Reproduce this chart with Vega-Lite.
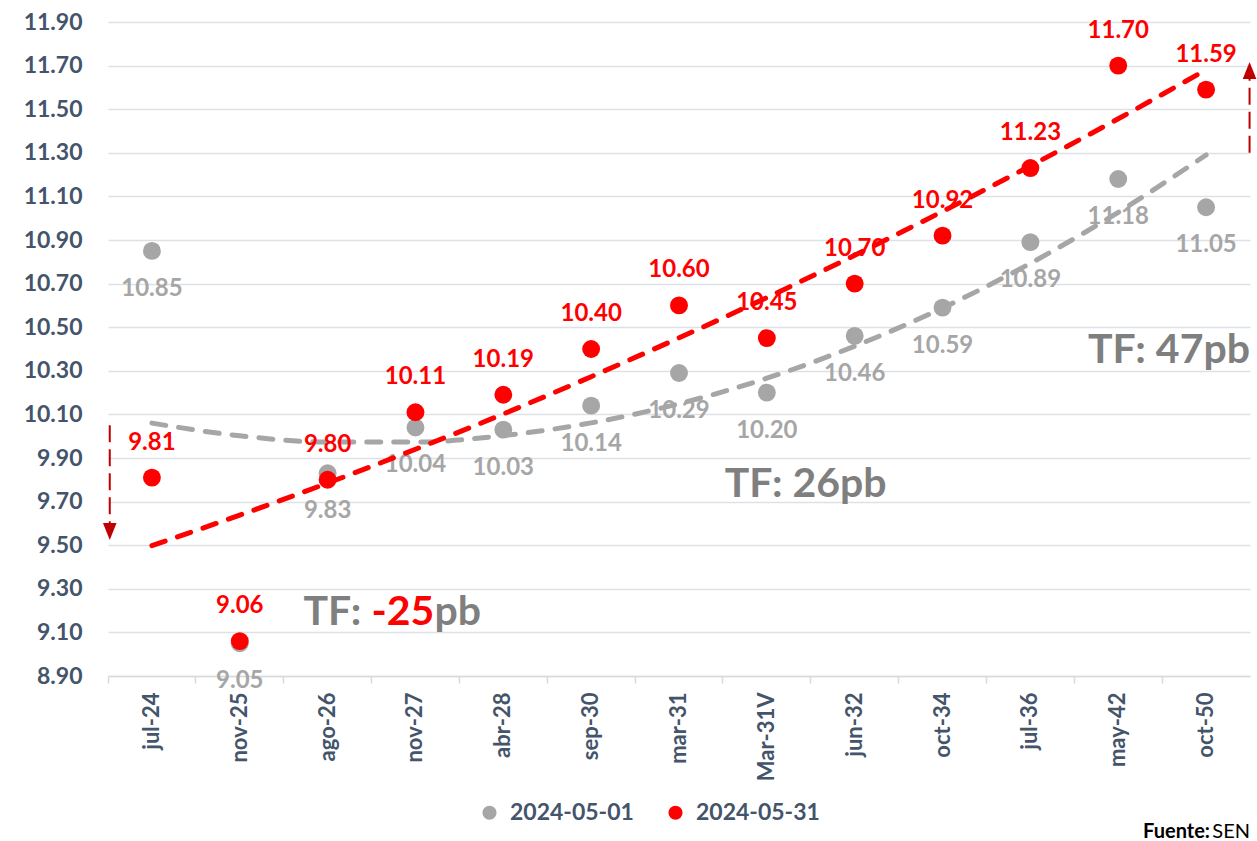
{
  "$schema": "https://vega.github.io/schema/vega-lite/v6.json",
  "width": 1142,
  "height": 654,
  "autosize": {"type": "none"},
  "padding": {"left": 108, "top": 22, "right": 7, "bottom": 165},
  "background": "white",
  "config": {"font": "Lato", "view": {"stroke": null}},
  "datasets": {
    "bonos": [
      {"bono": "jul-24", "serie": "2024-05-01", "tasa": 10.85, "tendencia": 10.060},
      {"bono": "nov-25", "serie": "2024-05-01", "tasa": 9.05, "tendencia": 10.002},
      {"bono": "ago-26", "serie": "2024-05-01", "tasa": 9.83, "tendencia": 9.973},
      {"bono": "nov-27", "serie": "2024-05-01", "tasa": 10.04, "tendencia": 9.973},
      {"bono": "abr-28", "serie": "2024-05-01", "tasa": 10.03, "tendencia": 10.003},
      {"bono": "sep-30", "serie": "2024-05-01", "tasa": 10.14, "tendencia": 10.061},
      {"bono": "mar-31", "serie": "2024-05-01", "tasa": 10.29, "tendencia": 10.149},
      {"bono": "Mar-31V", "serie": "2024-05-01", "tasa": 10.20, "tendencia": 10.266},
      {"bono": "jun-32", "serie": "2024-05-01", "tasa": 10.46, "tendencia": 10.413},
      {"bono": "oct-34", "serie": "2024-05-01", "tasa": 10.59, "tendencia": 10.588},
      {"bono": "jul-36", "serie": "2024-05-01", "tasa": 10.89, "tendencia": 10.793},
      {"bono": "may-42", "serie": "2024-05-01", "tasa": 11.18, "tendencia": 11.027},
      {"bono": "oct-50", "serie": "2024-05-01", "tasa": 11.05, "tendencia": 11.290},
      {"bono": "jul-24", "serie": "2024-05-31", "tasa": 9.81, "tendencia": 9.498},
      {"bono": "nov-25", "serie": "2024-05-31", "tasa": 9.06, "tendencia": 9.638},
      {"bono": "ago-26", "serie": "2024-05-31", "tasa": 9.80, "tendencia": 9.785},
      {"bono": "nov-27", "serie": "2024-05-31", "tasa": 10.11, "tendencia": 9.940},
      {"bono": "abr-28", "serie": "2024-05-31", "tasa": 10.19, "tendencia": 10.102},
      {"bono": "sep-30", "serie": "2024-05-31", "tasa": 10.40, "tendencia": 10.273},
      {"bono": "mar-31", "serie": "2024-05-31", "tasa": 10.60, "tendencia": 10.451},
      {"bono": "Mar-31V", "serie": "2024-05-31", "tasa": 10.45, "tendencia": 10.636},
      {"bono": "jun-32", "serie": "2024-05-31", "tasa": 10.70, "tendencia": 10.830},
      {"bono": "oct-34", "serie": "2024-05-31", "tasa": 10.92, "tendencia": 11.031},
      {"bono": "jul-36", "serie": "2024-05-31", "tasa": 11.23, "tendencia": 11.240},
      {"bono": "may-42", "serie": "2024-05-31", "tasa": 11.70, "tendencia": 11.456},
      {"bono": "oct-50", "serie": "2024-05-31", "tasa": 11.59, "tendencia": 11.681}
    ],
    "anotaciones": [
      {"id": "tf1", "bono": "nov-27", "tasa": 9.134, "texto": "TF:"},
      {"id": "neg", "bono": "nov-27", "tasa": 9.134, "texto": "-25"},
      {"id": "pb1", "bono": "nov-27", "tasa": 9.134, "texto": "pb"},
      {"id": "tf2", "bono": "jun-32", "tasa": 9.721, "texto": "TF: 26pb"},
      {"id": "tf3", "bono": "oct-50", "tasa": 10.336, "texto": "TF: 47pb"}
    ],
    "flechas": [
      {"lado": "izq", "bono": "jul-24", "tasa": 10.05, "hasta": 9.60, "punta": 9.563},
      {"lado": "der", "bono": "oct-50", "tasa": 11.30, "hasta": 11.64, "punta": 11.678}
    ],
    "fuente": [
      {"parte": "Fuente:", "bono": "oct-50", "tasa": 8.9},
      {"parte": "SEN", "bono": "oct-50", "tasa": 8.9}
    ]
  },
  "data": {"name": "bonos"},
  "encoding": {
    "x": {
      "field": "bono", "type": "nominal", "title": null,
      "scale": {"type": "band", "domain": ["jul-24","nov-25","ago-26","nov-27","abr-28","sep-30","mar-31","Mar-31V","jun-32","oct-34","jul-36","may-42","oct-50"], "paddingInner": 0, "paddingOuter": 0},
      "axis": {
        "bandPosition": 0, "labelAngle": -90, "labelAlign": "right", "labelBaseline": "middle",
        "labelFont": "Lato", "labelFontWeight": "bold", "labelFontSize": 22, "labelColor": "#44546A", "labelPadding": 9,
        "labelOverlap": false, "ticks": true, "tickSize": 7, "tickColor": "#D9D9D9", "tickWidth": 1.5,
        "domain": true, "domainColor": "#D9D9D9", "domainWidth": 1.5, "grid": false, "title": null
      }
    },
    "y": {
      "field": "tasa", "type": "quantitative", "title": null,
      "scale": {"domain": [8.9, 11.9], "nice": false, "zero": false},
      "axis": {
        "values": [8.9, 9.1, 9.3, 9.5, 9.7, 9.9, 10.1, 10.3, 10.5, 10.7, 10.9, 11.1, 11.3, 11.5, 11.7, 11.9],
        "format": ".2f", "labelFont": "Lato", "labelFontWeight": "bold", "labelFontSize": 23, "labelColor": "#44546A",
        "labelPadding": 26, "ticks": false, "domain": false, "grid": true, "gridColor": "#DDE1E6", "gridWidth": 1.5, "title": null
      }
    }
  },
  "layer": [
    {
      "mark": {"type": "point", "filled": true, "shape": "circle", "size": 320, "opacity": 1},
      "encoding": {
        "color": {
          "field": "serie", "type": "nominal",
          "scale": {"domain": ["2024-05-01", "2024-05-31"], "range": ["#A6A6A6", "#FF0000"]},
          "legend": {
            "orient": "none", "legendX": 370, "legendY": 779, "direction": "horizontal", "title": null,
            "symbolType": "circle", "symbolSize": 200, "symbolStrokeWidth": 0,
            "labelFont": "Lato", "labelFontWeight": "bold", "labelFontSize": 23, "labelColor": "#44546A",
            "labelOffset": 9, "columnPadding": 30
          }
        }
      }
    },
    {
      "transform": [{"filter": "datum.serie === '2024-05-01'"}],
      "mark": {"type": "text", "dy": 38, "fontSize": 24, "fontWeight": "bold", "color": "#A6A6A6", "baseline": "middle"},
      "encoding": {"text": {"field": "tasa", "type": "quantitative", "format": ".2f"}}
    },
    {
      "transform": [{"filter": "datum.serie === '2024-05-01'"}],
      "mark": {"type": "line", "color": "#A6A6A6", "strokeWidth": 5, "strokeDash": [14, 13], "strokeCap": "round", "interpolate": "monotone"},
      "encoding": {
        "y": {"field": "tendencia", "type": "quantitative", "title": null, "scale": {"domain": [8.9, 11.9], "nice": false, "zero": false}}
      }
    },
    {
      "transform": [{"filter": "datum.serie === '2024-05-31'"}],
      "mark": {"type": "text", "dy": -35, "fontSize": 24, "fontWeight": "bold", "color": "#FF0000", "baseline": "middle"},
      "encoding": {"text": {"field": "tasa", "type": "quantitative", "format": ".2f"}}
    },
    {
      "transform": [{"filter": "datum.serie === '2024-05-31'"}],
      "mark": {"type": "line", "color": "#FF0000", "strokeWidth": 5, "strokeDash": [14, 13], "strokeCap": "round", "interpolate": "monotone"},
      "encoding": {
        "y": {"field": "tendencia", "type": "quantitative", "title": null, "scale": {"domain": [8.9, 11.9], "nice": false, "zero": false}}
      }
    },
    {
      "data": {"name": "anotaciones"},
      "transform": [{"filter": "datum.id === 'tf1'"}],
      "mark": {"type": "text", "align": "left", "baseline": "alphabetic", "dx": -112, "fontSize": 41, "fontWeight": "bold", "color": "#7F7F7F"},
      "encoding": {"text": {"field": "texto"}}
    },
    {
      "data": {"name": "anotaciones"},
      "transform": [{"filter": "datum.id === 'neg'"}],
      "mark": {"type": "text", "align": "left", "baseline": "alphabetic", "dx": -44, "fontSize": 41, "fontWeight": "bold", "color": "#FF0000"},
      "encoding": {"text": {"field": "texto"}}
    },
    {
      "data": {"name": "anotaciones"},
      "transform": [{"filter": "datum.id === 'pb1'"}],
      "mark": {"type": "text", "align": "left", "baseline": "alphabetic", "dx": 19, "fontSize": 41, "fontWeight": "bold", "color": "#7F7F7F"},
      "encoding": {"text": {"field": "texto"}}
    },
    {
      "data": {"name": "anotaciones"},
      "transform": [{"filter": "datum.id === 'tf2'"}],
      "mark": {"type": "text", "align": "right", "baseline": "alphabetic", "dx": -12, "fontSize": 41, "fontWeight": "bold", "color": "#7F7F7F"},
      "encoding": {
        "x": {"field": "bono", "type": "nominal", "bandPosition": 1, "title": null, "scale": {"type": "band", "domain": ["jul-24","nov-25","ago-26","nov-27","abr-28","sep-30","mar-31","Mar-31V","jun-32","oct-34","jul-36","may-42","oct-50"], "paddingInner": 0, "paddingOuter": 0}},
        "text": {"field": "texto"}
      }
    },
    {
      "data": {"name": "anotaciones"},
      "transform": [{"filter": "datum.id === 'tf3'"}],
      "mark": {"type": "text", "align": "right", "baseline": "alphabetic", "dx": 0, "fontSize": 41, "fontWeight": "bold", "color": "#7F7F7F"},
      "encoding": {
        "x": {"field": "bono", "type": "nominal", "bandPosition": 1, "title": null, "scale": {"type": "band", "domain": ["jul-24","nov-25","ago-26","nov-27","abr-28","sep-30","mar-31","Mar-31V","jun-32","oct-34","jul-36","may-42","oct-50"], "paddingInner": 0, "paddingOuter": 0}},
        "text": {"field": "texto"}
      }
    },
    {
      "data": {"name": "flechas"},
      "transform": [{"filter": "datum.lado === 'izq'"}],
      "mark": {"type": "rule", "color": "#C00000", "strokeWidth": 2, "strokeDash": [17, 7]},
      "encoding": {
        "x": {"field": "bono", "type": "nominal", "bandPosition": 0.02, "title": null, "scale": {"type": "band", "domain": ["jul-24","nov-25","ago-26","nov-27","abr-28","sep-30","mar-31","Mar-31V","jun-32","oct-34","jul-36","may-42","oct-50"], "paddingInner": 0, "paddingOuter": 0}},
        "y2": {"field": "hasta"}
      }
    },
    {
      "data": {"name": "flechas"},
      "transform": [{"filter": "datum.lado === 'izq'"}],
      "mark": {"type": "point", "shape": "M-0.8,-1L0.8,-1L0,1Z", "filled": true, "color": "#C00000", "size": 289, "opacity": 1},
      "encoding": {
        "x": {"field": "bono", "type": "nominal", "bandPosition": 0.02, "title": null, "scale": {"type": "band", "domain": ["jul-24","nov-25","ago-26","nov-27","abr-28","sep-30","mar-31","Mar-31V","jun-32","oct-34","jul-36","may-42","oct-50"], "paddingInner": 0, "paddingOuter": 0}},
        "y": {"field": "punta", "type": "quantitative", "title": null, "scale": {"domain": [8.9, 11.9], "nice": false, "zero": false}}
      }
    },
    {
      "data": {"name": "flechas"},
      "transform": [{"filter": "datum.lado === 'der'"}],
      "mark": {"type": "rule", "color": "#C00000", "strokeWidth": 2, "strokeDash": [17, 7]},
      "encoding": {
        "x": {"field": "bono", "type": "nominal", "bandPosition": 0.995, "title": null, "scale": {"type": "band", "domain": ["jul-24","nov-25","ago-26","nov-27","abr-28","sep-30","mar-31","Mar-31V","jun-32","oct-34","jul-36","may-42","oct-50"], "paddingInner": 0, "paddingOuter": 0}},
        "y2": {"field": "hasta"}
      }
    },
    {
      "data": {"name": "flechas"},
      "transform": [{"filter": "datum.lado === 'der'"}],
      "mark": {"type": "point", "shape": "M-0.8,1L0.8,1L0,-1Z", "filled": true, "color": "#C00000", "size": 289, "opacity": 1},
      "encoding": {
        "x": {"field": "bono", "type": "nominal", "bandPosition": 0.995, "title": null, "scale": {"type": "band", "domain": ["jul-24","nov-25","ago-26","nov-27","abr-28","sep-30","mar-31","Mar-31V","jun-32","oct-34","jul-36","may-42","oct-50"], "paddingInner": 0, "paddingOuter": 0}},
        "y": {"field": "punta", "type": "quantitative", "title": null, "scale": {"domain": [8.9, 11.9], "nice": false, "zero": false}}
      }
    },
    {
      "data": {"name": "fuente"},
      "transform": [{"filter": "datum.parte === 'SEN'"}],
      "mark": {"type": "text", "align": "right", "baseline": "alphabetic", "dy": 162, "fontSize": 20, "fontWeight": "normal", "color": "#000000"},
      "encoding": {
        "x": {"field": "bono", "type": "nominal", "bandPosition": 1, "title": null, "scale": {"type": "band", "domain": ["jul-24","nov-25","ago-26","nov-27","abr-28","sep-30","mar-31","Mar-31V","jun-32","oct-34","jul-36","may-42","oct-50"], "paddingInner": 0, "paddingOuter": 0}},
        "text": {"field": "parte"}
      }
    },
    {
      "data": {"name": "fuente"},
      "transform": [{"filter": "datum.parte === 'Fuente:'"}],
      "mark": {"type": "text", "align": "right", "baseline": "alphabetic", "dx": -40, "dy": 162, "fontSize": 20, "fontWeight": "bold", "color": "#000000"},
      "encoding": {
        "x": {"field": "bono", "type": "nominal", "bandPosition": 1, "title": null, "scale": {"type": "band", "domain": ["jul-24","nov-25","ago-26","nov-27","abr-28","sep-30","mar-31","Mar-31V","jun-32","oct-34","jul-36","may-42","oct-50"], "paddingInner": 0, "paddingOuter": 0}},
        "text": {"field": "parte"}
      }
    }
  ]
}
